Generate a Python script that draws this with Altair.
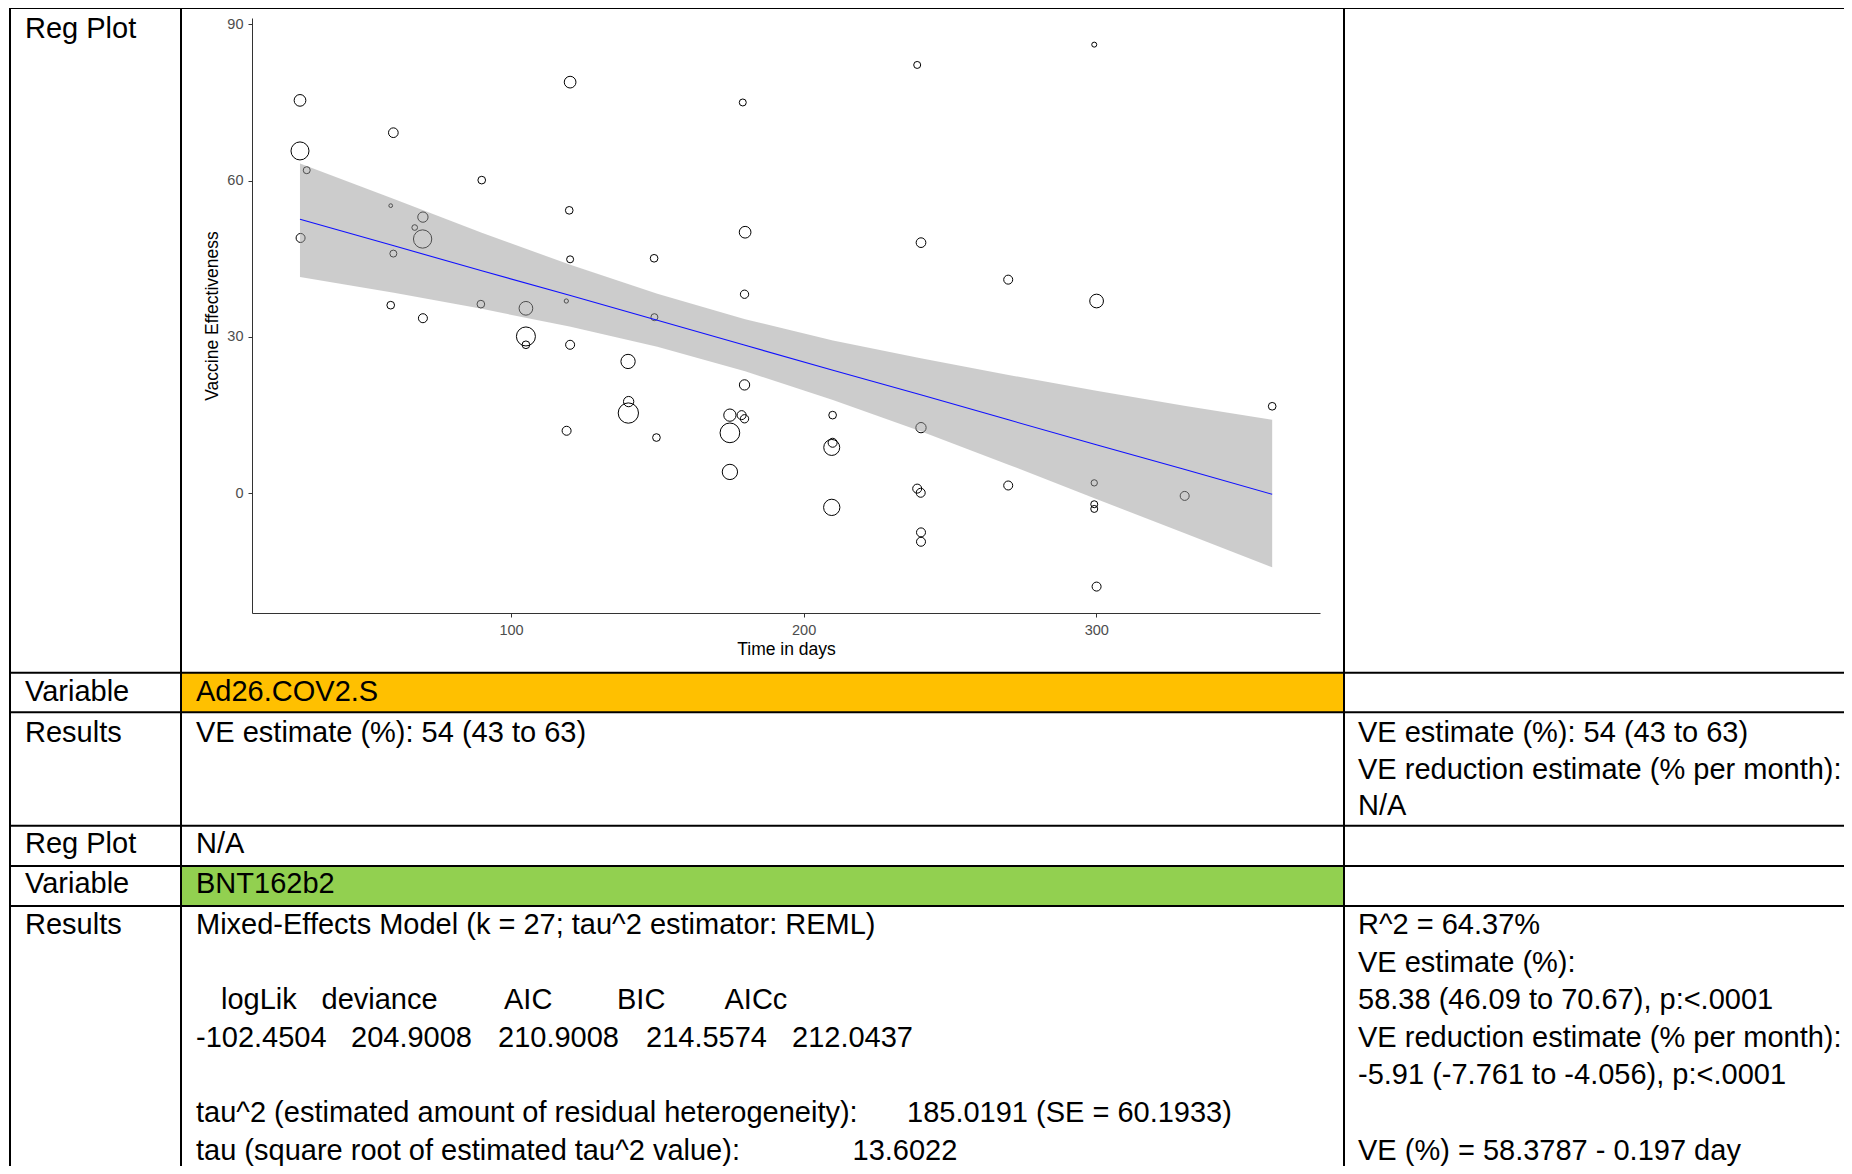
import altair as alt
import pandas as pd

# ---------------- data ----------------
days = [27.9, 27.9, 30.2, 28.1, 59.8, 58.9, 69.9, 67.1, 69.8, 59.8, 90.0, 58.9, 69.9, 89.7,
        105.1, 105.1, 105.1,
        120.2, 179.2, 119.9, 180.0, 120.2, 148.9, 179.8, 118.9, 149.0, 120.2, 140.0, 140.2,
        140.1, 119.0, 149.7, 179.8, 174.8, 178.8, 179.8, 174.8, 174.8, 209.9, 209.9, 209.6,
        209.6,
        238.8, 299.3, 240.1, 269.9, 300.1, 240.1, 238.8, 240.0, 269.9, 299.3, 299.3, 299.3,
        240.1, 240.1, 300.1, 360.1, 330.2]
ve = [75.4, 65.7, 62.0, 49.0, 69.2, 55.2, 53.0, 51.0, 48.8, 46.0, 60.1, 36.1, 33.6, 36.3,
      35.5, 30.1, 28.5,
      78.9, 75.0, 54.3, 50.1, 44.9, 45.1, 38.2, 36.9, 33.8, 28.5, 25.3, 17.6,
      15.4, 12.0, 10.7, 20.8, 15.0, 15.0, 14.3, 11.6, 4.1, 15.0, 9.7, 8.8,
      -2.7,
      82.2, 86.1, 48.1, 41.0, 36.9, 12.6, 0.9, 0.1, 1.5, 2.0, -2.1, -3.0,
      -7.5, -9.3, -17.9, 16.7, -0.5]
weight = [1.37, 3.24, 0.49, 0.81, 0.94, 0.14, 1.06, 0.32, 3.35, 0.49, 0.59, 0.59, 0.81, 0.59,
          1.88, 3.61, 0.59,
          1.37, 0.49, 0.59, 1.37, 0.49, 0.59, 0.69, 0.18, 0.49, 0.81, 2.04, 1.06,
          4.12, 0.81, 0.59, 1.06, 1.51, 0.81, 0.69, 3.88, 2.34, 0.59, 0.81, 2.56,
          2.66,
          0.49, 0.25, 0.94, 0.81, 1.88, 1.06, 0.81, 0.81, 0.81, 0.40, 0.49, 0.49,
          0.81, 0.81, 0.81, 0.59, 0.81]

band_days = [27.9, 60, 90, 120, 150, 180, 210, 240, 270, 300, 330, 360.1]
band_lower = [41.5, 38.5, 35.4, 32.0, 28.1, 23.4, 17.9, 11.9, 5.5, -1.1, -7.6, -14.2]
band_upper = [63.3, 56.5, 50.0, 43.9, 38.3, 33.4, 29.3, 25.9, 22.7, 19.7, 16.8, 14.1]
fit_ve = [52.6, 47.5, 42.7, 38.0, 33.2, 28.4, 23.6, 18.9, 14.1, 9.3, 4.6, -0.2]

x_ticks = [100, 200, 300]
y_ticks = [0, 30, 60, 90]

# ---------------- table text ----------------
row_labels = ["Reg Plot", "Variable", "Results", "Reg Plot", "Variable", "Results"]
col2_lines = ["Ad26.COV2.S", "VE estimate (%): 54 (43 to 63)", "N/A", "BNT162b2",
              "Mixed-Effects Model (k = 27; tau^2 estimator: REML)"]
stat_names = ["logLik", "deviance", "AIC", "BIC", "AICc"]
stat_values = ["-102.4504", "204.9008", "210.9008", "214.5574", "212.0437"]
tau_labels = ["tau^2 (estimated amount of residual heterogeneity):",
              "tau (square root of estimated tau^2 value):"]
tau_values = ["185.0191 (SE = 60.1933)", "13.6022"]
col3_top = ["VE estimate (%): 54 (43 to 63)", "VE reduction estimate (% per month):", "N/A"]
col3_bottom = ["R^2 = 64.37%", "VE estimate (%):", "58.38 (46.09 to 70.67), p:<.0001",
               "VE reduction estimate (% per month):", "-5.91 (-7.761 to -4.056), p:<.0001",
               "", "VE (%) = 58.3787 - 0.197 day"]

# ---------------- layout (page pixels) ----------------
PAGE = 8
PADL, PADT = 244, 10
W, H = 1068, 595
TOTW, TOTH = 1836, 1158
PADR = TOTW - PADL - W
PADB = TOTH - PADT - H


def vx(px):
    return px - PAGE - PADL


def vy(py):
    return py - PAGE - PADT


FONT = "Liberation Sans"
FS = 29
one = alt.Data(values=[{}])

points = pd.DataFrame({"day": days, "ve": ve, "weight": weight})
band = pd.DataFrame({"day": band_days, "lower": band_lower, "upper": band_upper, "fit": fit_ve})

xscale = alt.Scale(domain=[11.5, 376.44], nice=False, zero=False)
yscale = alt.Scale(domain=[-22.97, 91.21], nice=False, zero=False)

axis_common = dict(grid=False, domainColor="#333333", domainWidth=1, tickColor="#333333",
                   tickSize=4, tickWidth=1, labelFont=FONT, labelFontSize=14.5,
                   labelColor="#4d4d4d", titleFont=FONT, titleFontSize=17.5,
                   titleFontWeight="normal", titleColor="black")

pts = alt.Chart(points).mark_point(shape="circle", filled=False, color="black",
                                   strokeWidth=1, opacity=1).encode(
    x=alt.X("day:Q", scale=xscale,
            axis=alt.Axis(values=x_ticks, title="Time in days", labelPadding=6,
                          titlePadding=4, **axis_common)),
    y=alt.Y("ve:Q", scale=yscale,
            axis=alt.Axis(values=y_ticks, title="Vaccine Effectiveness", labelPadding=5,
                          titlePadding=5, **axis_common)),
    size=alt.Size("weight:Q", scale=alt.Scale(domain=[0, 5], range=[0, 500]), legend=None),
)

ribbon = alt.Chart(band).mark_area(color="#999999", opacity=0.5).encode(
    x="day:Q", y="lower:Q", y2="upper:Q")
fitline = alt.Chart(band).mark_line(color="#1010ff", strokeWidth=1.1).encode(
    x="day:Q", y="fit:Q")

layers = [pts, ribbon, fitline]


def rect(px1, px2, py1, py2, color):
    return alt.Chart(one).mark_rect(color=color, opacity=1).encode(
        x=alt.value(vx(px1)), x2=alt.value(vx(px2)),
        y=alt.value(vy(py1)), y2=alt.value(vy(py2)))


COL_X = [10, 181, 1344]
ROW_Y = [8, 672.7, 712.3, 825.7, 866, 906]
RIGHT, BOTTOM = 1870, 1190

fills = [rect(COL_X[1], COL_X[2], ROW_Y[1], ROW_Y[2], "#FFC000"),
         rect(COL_X[1], COL_X[2], ROW_Y[4], ROW_Y[5], "#92D050")]


def hline(py):
    return alt.Chart(one).mark_rule(color="black", strokeWidth=2).encode(
        x=alt.value(vx(COL_X[0] - 1)), x2=alt.value(vx(RIGHT)),
        y=alt.value(vy(py)), y2=alt.value(vy(py)))


def vline(px):
    return alt.Chart(one).mark_rule(color="black", strokeWidth=2).encode(
        x=alt.value(vx(px)), x2=alt.value(vx(px)),
        y=alt.value(vy(ROW_Y[0] - 1)), y2=alt.value(vy(BOTTOM)))


lines = [hline(y) for y in ROW_Y] + [vline(x) for x in COL_X]


def txt(s, px, py, size=FS):
    return alt.Chart(one).mark_text(align="left", baseline="alphabetic", font=FONT,
                                    fontSize=size, color="black").encode(
        x=alt.value(vx(px)), y=alt.value(vy(py)), text=alt.value(s))


# bottom section baselines (slightly tightened so the last line stays inside the page)
STEP = 37.6
BOT = [934 + i * STEP for i in range(7)]

texts = []
ROW_BASE = [37.5, 701, 741.7, 853.3, 893.3, BOT[0]]
for s, b in zip(row_labels, ROW_BASE):
    texts.append(txt(s, 25, b))
COL2_BASE = [701, 741.7, 853.3, 893.3, BOT[0]]
for s, b in zip(col2_lines, COL2_BASE):
    texts.append(txt(s, 196, b))
STAT_NAME_X = [221, 321.5, 504, 617, 724.5]
STAT_VAL_X = [196, 351, 498, 646, 792]
for s, x in zip(stat_names, STAT_NAME_X):
    texts.append(txt(s, x, BOT[2]))
for s, x in zip(stat_values, STAT_VAL_X):
    texts.append(txt(s, x, BOT[3]))
TAU_BASE = [BOT[5], BOT[6]]
TAU_VAL_X = [907, 852.5]
for s, v, b, x in zip(tau_labels, tau_values, TAU_BASE, TAU_VAL_X):
    texts.append(txt(s, 196, b))
    texts.append(txt(v, x, b))
COL3_TOP_BASE = [741.7, 779.3, 814.5]
for s, b in zip(col3_top, COL3_TOP_BASE):
    texts.append(txt(s, 1358, b))
for s, b in zip(col3_bottom, BOT):
    if s:
        texts.append(txt(s, 1358, b))

chart = alt.layer(*(fills + layers + lines + texts)).properties(
    width=W, height=H,
    padding={"left": PADL, "top": PADT, "right": PADR, "bottom": PADB},
    autosize=alt.AutoSizeParams(type="none"),
    background="white",
).configure_view(stroke=None)

chart.save("out.html", embed_options={"renderer": "svg", "actions": False})
